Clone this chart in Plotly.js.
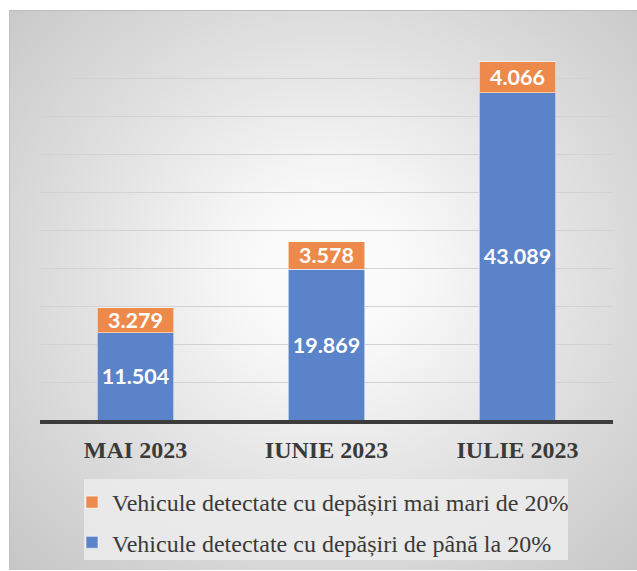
<!DOCTYPE html>
<html>
<head>
<meta charset="utf-8">
<script src="https://cdn.plot.ly/plotly-3.0.1.min.js"></script>
<style>
  html, body { margin:0; padding:0; background:#ffffff; }
  #wrap { position:relative; width:637px; height:571px; overflow:hidden; }
  #bg { position:absolute; left:9px; top:10px; width:640px; height:559px;
        border-top:1px solid #bcbcbc; border-left:1px solid #c2c2c2;
        background: radial-gradient(ellipse farthest-corner at 50% 47%, #ffffff 0%, #f7f7f7 22%, #dedede 60%, #c6c6c6 100%); }
  #chart { position:absolute; left:0; top:0; width:637px; height:571px; }
</style>
</head>
<body>
<div id="wrap">
  <div id="bg"></div>
  <div id="chart"></div>
</div>
<script>
const categories = ["MAI 2023", "IUNIE 2023", "IULIE 2023"];
const seriesUpTo20 = [11504, 19869, 43089];
const seriesOver20 = [3279, 3578, 4066];
const nameUpTo20 = "Vehicule detectate cu depășiri de până la 20%";
const nameOver20 = "Vehicule detectate cu depășiri mai mari de 20%";

const W = 637, H = 571;
const M = {l: 40, r: 24, t: 40, b: 151, autoexpand: false};
const pw = W - M.l - M.r, ph = H - M.t - M.b;
const px = x => (x - M.l) / pw;
const py = y => (H - M.b - y) / ph;

const labelFont = {family: "Lato, 'Open Sans', sans-serif", size: 21.5, color: "#ffffff", weight: "bold"};

const traces = [
  {
    type: "bar", x: categories, y: seriesUpTo20, name: nameUpTo20,
    legendgroup: "a", legendrank: 2,
    marker: {color: "#5b83c9", line: {color: "rgba(255,255,255,0.55)", width: 1}},
    texttemplate: "%{y:,.0f}", textposition: "inside", insidetextanchor: "middle",
    constraintext: "none", textfont: labelFont, hoverinfo: "none"
  },
  {
    type: "bar", x: categories, y: seriesOver20, name: nameOver20,
    legendgroup: "b", legendrank: 1,
    marker: {color: "#ed8a4b", line: {color: "rgba(255,255,255,0.55)", width: 1}},
    texttemplate: "%{y:,.0f}", textposition: "inside", insidetextanchor: "middle",
    constraintext: "none", textfont: labelFont, hoverinfo: "none"
  }
];

const layout = {
  width: W, height: H,
  margin: M,
  paper_bgcolor: "rgba(0,0,0,0)",
  plot_bgcolor: "rgba(0,0,0,0)",
  separators: ",.",
  barmode: "stack",
  bargap: 0.6,
  showlegend: true,
  xaxis: {
    type: "category",
    showline: true, linecolor: "#3c3c3c", linewidth: 4,
    ticks: "outside", ticklen: 5, tickcolor: "rgba(0,0,0,0)",
    tickfont: {family: "'Liberation Serif', 'Times New Roman', serif", size: 24, color: "#3a3a3a", weight: "bold"},
    showgrid: false, fixedrange: true, automargin: false
  },
  yaxis: {
    range: [0, 50000], dtick: 5000, tick0: 0,
    showticklabels: false, ticks: "",
    showgrid: true, gridcolor: "#d2d2d2", gridwidth: 1,
    zeroline: false, showline: false, fixedrange: true, automargin: false
  },
  legend: {
    orientation: "v",
    traceorder: "grouped",
    tracegroupgap: 6,
    xref: "container", yref: "container",
    x: 72 / W, xanchor: "left",
    y: 1 - 480 / H, yanchor: "top",
    bgcolor: "rgba(0,0,0,0)",
    font: {family: "'Liberation Serif', 'Times New Roman', serif", size: 24, color: "#3a3a3a"}
  },
  shapes: [
    {type: "rect", xref: "paper", yref: "paper",
     x0: px(84), x1: px(568), y0: py(560), y1: py(479),
     fillcolor: "rgba(236,236,236,0.85)", line: {width: 0}, layer: "below"}
  ]
};

Plotly.newPlot("chart", traces, layout, {staticPlot: true, displayModeBar: false});
</script>
</body>
</html>
